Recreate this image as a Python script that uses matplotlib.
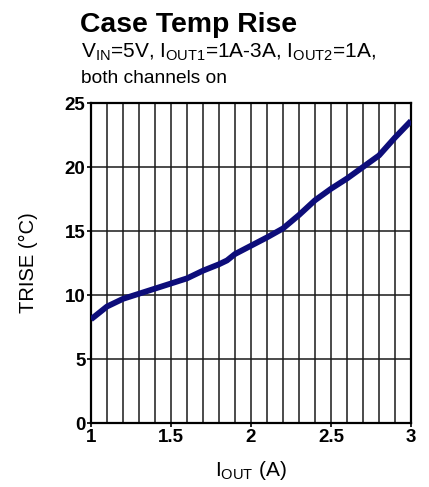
import matplotlib
matplotlib.use("Agg")
import matplotlib.pyplot as plt

plt.rcParams['font.family'] = ['Liberation Sans', 'DejaVu Sans']
plt.rcParams['mathtext.fontset'] = 'custom'
plt.rcParams['mathtext.rm'] = 'Liberation Sans'

# data
iout = [1.0, 1.1, 1.2, 1.3, 1.4, 1.5, 1.6, 1.7, 1.8, 1.85, 1.9, 2.0, 2.1,
        2.2, 2.3, 2.4, 2.5, 2.6, 2.7, 2.8, 2.9, 3.0]
trise = [8.1, 9.1, 9.7, 10.1, 10.5, 10.9, 11.3, 11.9, 12.4, 12.7, 13.2, 13.85,
         14.5, 15.2, 16.25, 17.4, 18.3, 19.1, 20.0, 20.9, 22.3, 23.6]
xticks = [1, 1.5, 2, 2.5, 3]
xtick_labels = ['1', '1.5', '2', '2.5', '3']
yticks = [0, 5, 10, 15, 20, 25]

fig = plt.figure(figsize=(4.29, 4.87), dpi=100)
ax = fig.add_axes([91 / 429, 64 / 487, 320 / 429, 320 / 487])

# grid: every 0.1 A and every 5 degC
for i in range(1, 20):
    ax.axvline(1 + i * 0.1, color='#1a1a1a', lw=1.1, zorder=1)
for v in yticks[1:-1]:
    ax.axhline(v, color='#1a1a1a', lw=1.1, zorder=1)

ax.plot(iout, trise, color='#0d0d7a', lw=4.2, solid_capstyle='butt', zorder=3)

ax.set_xlim(1, 3)
ax.set_ylim(0, 25)
ax.set_xticks(xticks)
ax.set_xticklabels(xtick_labels)
ax.set_yticks(yticks)
for s in ax.spines.values():
    s.set_linewidth(1.6)
ax.tick_params(length=3, width=1.2, pad=1, labelsize=13.5)
for lab in ax.get_xticklabels() + ax.get_yticklabels():
    lab.set_fontweight('bold')

ax.set_ylabel('TRISE (°C)', fontsize=14.5, labelpad=19)
ax.set_xlabel(r'I$\mathregular{_{OUT}}$ (A)', fontsize=15, labelpad=10)

fig.text(80 / 429, 1 - 32 / 487, 'Case Temp Rise', fontsize=20.4, fontweight='bold')
fig.text(81 / 429, 1 - 58 / 487,
         r'V$\mathregular{_{IN}}$=5V, I$\mathregular{_{OUT1}}$=1A-3A, I$\mathregular{_{OUT2}}$=1A,',
         fontsize=15)
fig.text(81 / 429, 1 - 83 / 487, 'both channels on', fontsize=13.8)

fig.savefig('out.png', dpi=100)
